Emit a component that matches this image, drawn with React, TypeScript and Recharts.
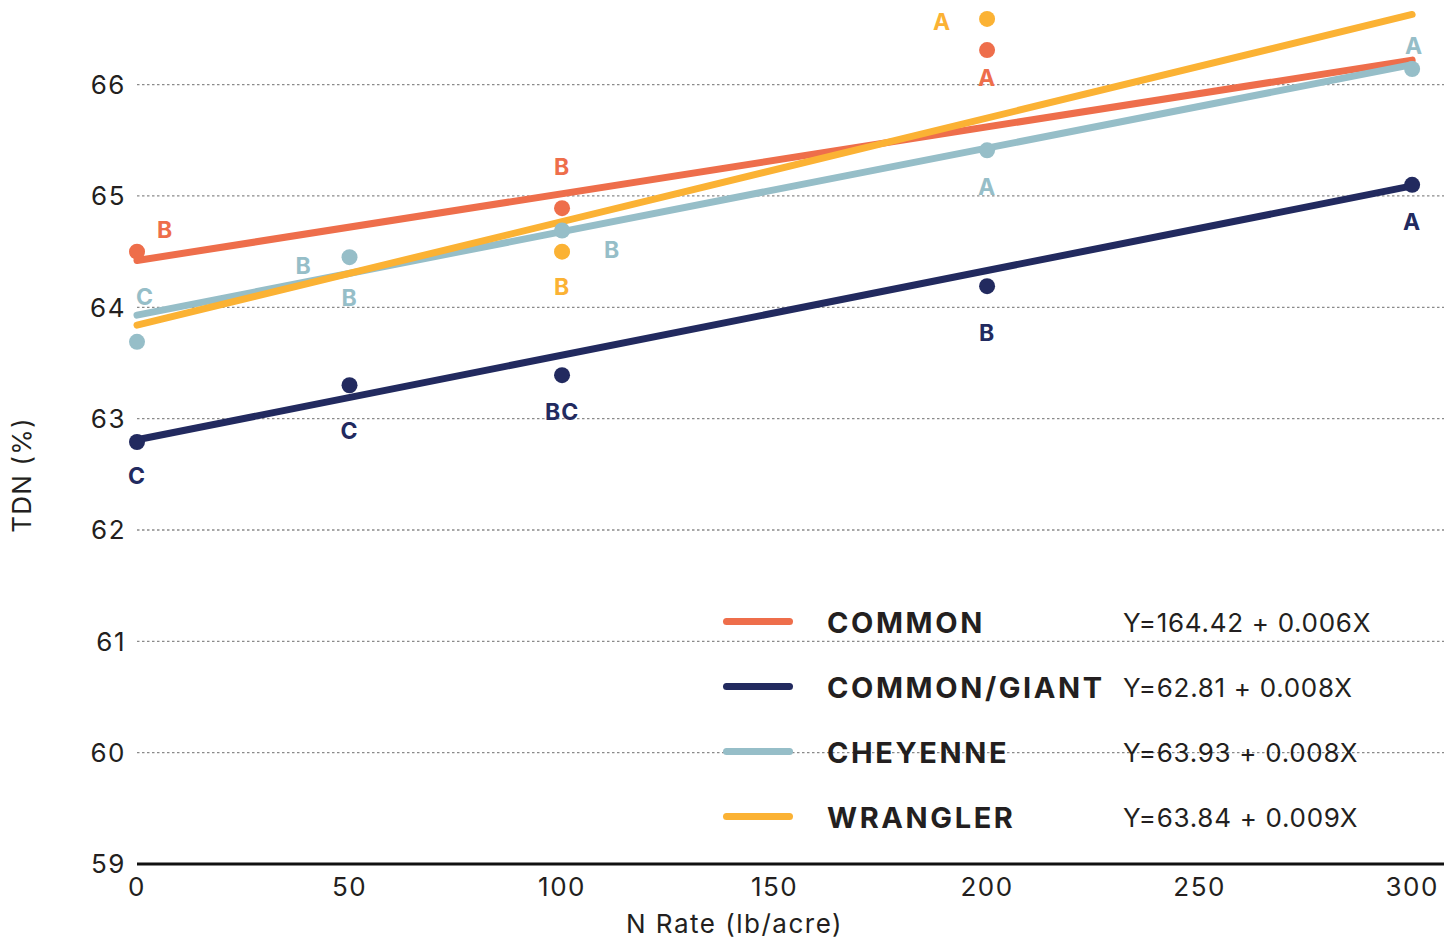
import React from 'react';
import {
  ComposedChart,
  Line,
  Scatter,
  XAxis,
  YAxis,
  CartesianGrid,
  Legend,
  Label,
} from 'recharts';

const FONT = 'Inter, "DejaVu Sans", sans-serif';
const INK = '#231f20';

// N application rates (lb/acre)
const nRates = [0, 50, 100, 200, 300];

// Varieties
const seriesNames = ['COMMON', 'COMMON/GIANT', 'CHEYENNE', 'WRANGLER'];
const seriesColors = ['#ee6e4b', '#222a5f', '#96bec8', '#fbb234'];

// Mean TDN (%) per N rate; null where no mean is plotted
const commonTdn = [64.5, null, 64.89, 66.31, null];
const commonGiantTdn = [62.79, 63.3, 63.39, 64.19, 65.1];
const cheyenneTdn = [63.69, 64.45, 64.69, 65.41, 66.14];
const wranglerTdn = [null, null, 64.5, 66.59, null];

// Mean-separation letters per N rate
const commonLetters = ['B', '', 'B', 'A', ''];
const commonGiantLetters = ['C', 'C', 'BC', 'B', 'A'];
const cheyenneLetters = ['C', 'B', 'B', 'A', 'A'];
const wranglerLetters = ['', '', 'B', 'A', ''];

// Linear fits: Y = a + bX
const intercepts = [64.42, 62.81, 63.93, 63.84];
const slopes = [0.006, 0.0076, 0.0075, 0.0093];
const equationLabels = [
  'Y=164.42 + 0.006X',
  'Y=62.81 + 0.008X',
  'Y=63.93 + 0.008X',
  'Y=63.84 + 0.009X',
];
const fitRange = [0, 300];

const xTicks = [0, 50, 100, 150, 200, 250, 300];
const yTicks = [59, 60, 61, 62, 63, 64, 65, 66];

const tdnBySeries = [commonTdn, commonGiantTdn, cheyenneTdn, wranglerTdn];
const lettersBySeries = [commonLetters, commonGiantLetters, cheyenneLetters, wranglerLetters];

// Where each letter sits relative to its dot (px)
const letterOffsets: [number, number][][][] = [
  [[[28, -22]], [], [[0, -42]], [[0, 27]], []],
  [[[0, 33]], [[0, 45]], [[0, 36]], [[0, 46]], [[0, 37]]],
  [[[8, -45]], [[-46, 8], [0, 40]], [[50, 19]], [[0, 36]], [[2, -24]]],
  [[], [], [[0, 35]], [[-45, 3]], []],
];

const pointData = tdnBySeries.map((vals) =>
  nRates
    .map((n, i) => ({ n, v: vals[i], i }))
    .filter((d) => d.v !== null)
);

const fitData = intercepts.map((a, k) =>
  fitRange.map((n) => ({ n, v: a + slopes[k] * n }))
);

const makeDot = (k: number) => (props: any) => {
  const { cx, cy, payload } = props;
  const idx = payload.i;
  const letter = lettersBySeries[k][idx];
  const offs = letterOffsets[k][idx] || [];
  return (
    <g>
      <circle cx={cx} cy={cy} r={8} fill={seriesColors[k]} />
      {letter
        ? offs.map(([dx, dy], j) => (
            <text
              key={j}
              x={cx + dx}
              y={cy + dy + 8.5}
              textAnchor="middle"
              fontSize={23}
              fontWeight={700}
              letterSpacing={1}
              fill={seriesColors[k]}
              fontFamily={FONT}
            >
              {letter}
            </text>
          ))
        : null}
    </g>
  );
};

const LegendBox = () => (
  <div style={{ fontFamily: FONT, color: INK, whiteSpace: 'nowrap' }}>
    {seriesNames.map((name, k) => (
      <div
        key={name}
        style={{ display: 'flex', alignItems: 'center', height: 65 }}
      >
        <div
          style={{
            width: 70,
            height: 7,
            borderRadius: 4,
            background: seriesColors[k],
            marginRight: 34,
          }}
        />
        <div
          style={{
            width: 296,
            fontWeight: 700,
            fontSize: 29,
            letterSpacing: 2.6,
            position: 'relative',
            top: 1,
          }}
        >
          {name}
        </div>
        <div style={{ fontSize: 26, letterSpacing: 0.7, position: 'relative', top: 1 }}>
          {equationLabels[k]}
        </div>
      </div>
    ))}
  </div>
);

const XTitle = (props: any) => {
  const { viewBox } = props;
  return (
    <text
      x={viewBox.x + viewBox.width / 2 - 56}
      y={viewBox.y + 69}
      textAnchor="middle"
      fontSize={26}
      letterSpacing={1.5}
      fill={INK}
      fontFamily={FONT}
    >
      N Rate (lb/acre)
    </text>
  );
};

const YTitle = () => (
  <text
    transform="translate(31, 475) rotate(-90)"
    textAnchor="middle"
    fontSize={26}
    letterSpacing={1.2}
    fill={INK}
    fontFamily={FONT}
  >
    TDN (%)
  </text>
);

const tickStyle = { fontSize: 26, fill: INK, letterSpacing: 1.5 };

export default function App() {
  return (
    <div
      style={{
        position: 'absolute',
        left: 0,
        top: 0,
        width: 1444,
        height: 938,
        background: '#fff',
        fontFamily: FONT,
      }}
    >
      <ComposedChart width={1444} height={938} margin={{ top: 0, right: 0, bottom: 0, left: 0 }}>
        <CartesianGrid
          horizontal
          vertical={false}
          horizontalValues={yTicks}
          stroke="#8a8a8a"
          strokeWidth={1.3}
          strokeDasharray="2.5 2.5"
        />
        <XAxis
          type="number"
          dataKey="n"
          domain={[0, 307.5]}
          ticks={xTicks}
          interval={0}
          height={74}
          tickSize={0}
          tickMargin={14}
          tickLine={false}
          axisLine={{ stroke: '#111', strokeWidth: 3 }}
          tick={tickStyle}
        >
          <Label content={XTitle} />
        </XAxis>
        <YAxis
          type="number"
          domain={[59, 66.76]}
          ticks={yTicks}
          interval={0}
          width={137}
          tickSize={0}
          tickMargin={11}
          tickLine={false}
          axisLine={false}
          tick={tickStyle}
        >
          <Label content={YTitle} />
        </YAxis>
        <Legend
          layout="vertical"
          align="center"
          verticalAlign="middle"
          content={LegendBox}
          wrapperStyle={{ left: 723, top: 589, width: 720 }}
        />
        {fitData.map((d, k) => (
          <Line
            key={seriesNames[k]}
            data={d}
            dataKey="v"
            type="linear"
            stroke={seriesColors[k]}
            strokeWidth={7}
            strokeLinecap="round"
            dot={false}
            activeDot={false}
            legendType="none"
            isAnimationActive={false}
          />
        ))}
        {pointData.map((d, k) => (
          <Scatter
            key={'pts-' + seriesNames[k]}
            data={d}
            dataKey="v"
            fill={seriesColors[k]}
            shape={makeDot(k)}
            legendType="none"
            isAnimationActive={false}
          />
        ))}
      </ComposedChart>
    </div>
  );
}
